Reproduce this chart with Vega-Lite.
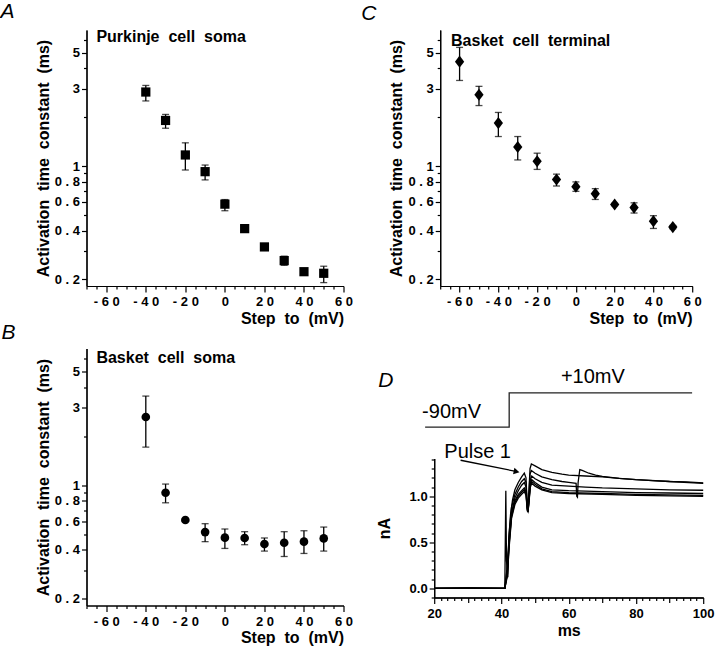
{
  "$schema": "https://vega.github.io/schema/vega-lite/v6.json",
  "background": "white",
  "padding": {"left": 0.5, "top": 0, "right": 2, "bottom": 2},
  "datasets": {
    "purk": [
      {"v": -40, "tau": 2.86, "lo": 2.52, "hi": 3.14},
      {"v": -30, "tau": 1.91, "lo": 1.71, "hi": 2.08},
      {"v": -20, "tau": 1.17, "lo": 0.945, "hi": 1.39},
      {"v": -10, "tau": 0.923, "lo": 0.821, "hi": 1.014},
      {"v": 0, "tau": 0.582, "lo": 0.53, "hi": 0.621},
      {"v": 10, "tau": 0.411, "lo": 0.39, "hi": 0.43},
      {"v": 20, "tau": 0.317, "lo": 0.307, "hi": 0.327},
      {"v": 30, "tau": 0.261, "lo": 0.244, "hi": 0.278},
      {"v": 40, "tau": 0.223, "lo": 0.215, "hi": 0.232},
      {"v": 50, "tau": 0.218, "lo": 0.191, "hi": 0.241}
    ],
    "bsoma": [
      {"v": -40, "tau": 2.62, "lo": 1.71, "hi": 3.52},
      {"v": -30, "tau": 0.897, "lo": 0.778, "hi": 1.014},
      {"v": -20, "tau": 0.61, "lo": 0.6, "hi": 0.62},
      {"v": -10, "tau": 0.514, "lo": 0.449, "hi": 0.579},
      {"v": 0, "tau": 0.475, "lo": 0.408, "hi": 0.537},
      {"v": 10, "tau": 0.473, "lo": 0.43, "hi": 0.517},
      {"v": 20, "tau": 0.434, "lo": 0.393, "hi": 0.473},
      {"v": 30, "tau": 0.442, "lo": 0.364, "hi": 0.517},
      {"v": 40, "tau": 0.449, "lo": 0.38, "hi": 0.524},
      {"v": 50, "tau": 0.47, "lo": 0.393, "hi": 0.552}
    ],
    "bterm": [
      {"v": -60, "tau": 4.4, "lo": 3.37, "hi": 5.39},
      {"v": -50, "tau": 2.75, "lo": 2.36, "hi": 3.1},
      {"v": -40, "tau": 1.84, "lo": 1.52, "hi": 2.14},
      {"v": -30, "tau": 1.31, "lo": 1.09, "hi": 1.52},
      {"v": -20, "tau": 1.07, "lo": 0.953, "hi": 1.2},
      {"v": -10, "tau": 0.826, "lo": 0.753, "hi": 0.891},
      {"v": 0, "tau": 0.746, "lo": 0.698, "hi": 0.798},
      {"v": 10, "tau": 0.675, "lo": 0.622, "hi": 0.725},
      {"v": 20, "tau": 0.579, "lo": 0.57, "hi": 0.588},
      {"v": 30, "tau": 0.554, "lo": 0.513, "hi": 0.593},
      {"v": 40, "tau": 0.457, "lo": 0.412, "hi": 0.494},
      {"v": 50, "tau": 0.42, "lo": 0.41, "hi": 0.43}
    ],
    "protocol": [
      {"t": 17.3, "mV": -90},
      {"t": 42.3, "mV": -90},
      {"t": 42.3, "mV": 10},
      {"t": 96.7, "mV": 10}
    ],
    "arrow": [
      {"t": 27.85, "nA": 1.391},
      {"t": 44.3, "nA": 1.27}
    ],
    "traces": [
      {"tr": "a", "t": 20, "nA": 0}, {"tr": "a", "t": 30, "nA": 0.004}, {"tr": "a", "t": 41, "nA": 0},
      {"tr": "a", "t": 41.3, "nA": 1.06}, {"tr": "a", "t": 41.5, "nA": 0.3}, {"tr": "a", "t": 41.8, "nA": 0.15},
      {"tr": "a", "t": 42.2, "nA": 0.55}, {"tr": "a", "t": 42.7, "nA": 0.8}, {"tr": "a", "t": 43.3, "nA": 0.96},
      {"tr": "a", "t": 44, "nA": 1.07}, {"tr": "a", "t": 45, "nA": 1.15}, {"tr": "a", "t": 46, "nA": 1.21},
      {"tr": "a", "t": 46.8, "nA": 1.25}, {"tr": "a", "t": 47.3, "nA": 1.2}, {"tr": "a", "t": 47.6, "nA": 0.96},
      {"tr": "a", "t": 47.85, "nA": 0.83}, {"tr": "a", "t": 48.1, "nA": 1.0}, {"tr": "a", "t": 48.5, "nA": 1.3},
      {"tr": "a", "t": 48.9, "nA": 1.35}, {"tr": "a", "t": 50, "nA": 1.33}, {"tr": "a", "t": 52, "nA": 1.29},
      {"tr": "a", "t": 55, "nA": 1.26}, {"tr": "a", "t": 58, "nA": 1.24}, {"tr": "a", "t": 60, "nA": 1.23},
      {"tr": "a", "t": 65, "nA": 1.22}, {"tr": "a", "t": 70, "nA": 1.21}, {"tr": "a", "t": 75, "nA": 1.195},
      {"tr": "a", "t": 80, "nA": 1.18}, {"tr": "a", "t": 85, "nA": 1.17}, {"tr": "a", "t": 90, "nA": 1.16},
      {"tr": "a", "t": 95, "nA": 1.155}, {"tr": "a", "t": 100, "nA": 1.145},
      {"tr": "b", "t": 20, "nA": 0}, {"tr": "b", "t": 30, "nA": 0.004}, {"tr": "b", "t": 41, "nA": 0},
      {"tr": "b", "t": 41.5, "nA": 0.15}, {"tr": "b", "t": 41.9, "nA": 0.12}, {"tr": "b", "t": 42.3, "nA": 0.6},
      {"tr": "b", "t": 43, "nA": 0.88}, {"tr": "b", "t": 44, "nA": 1.02}, {"tr": "b", "t": 45, "nA": 1.1},
      {"tr": "b", "t": 46, "nA": 1.16}, {"tr": "b", "t": 46.8, "nA": 1.19}, {"tr": "b", "t": 47.3, "nA": 1.15},
      {"tr": "b", "t": 47.6, "nA": 0.92}, {"tr": "b", "t": 47.85, "nA": 0.83}, {"tr": "b", "t": 48.1, "nA": 0.98},
      {"tr": "b", "t": 48.5, "nA": 1.24}, {"tr": "b", "t": 48.9, "nA": 1.28}, {"tr": "b", "t": 50, "nA": 1.25},
      {"tr": "b", "t": 52, "nA": 1.21}, {"tr": "b", "t": 55, "nA": 1.18}, {"tr": "b", "t": 58, "nA": 1.16},
      {"tr": "b", "t": 60, "nA": 1.15}, {"tr": "b", "t": 62.2, "nA": 1.14}, {"tr": "b", "t": 62.4, "nA": 1.0},
      {"tr": "b", "t": 62.6, "nA": 0.99}, {"tr": "b", "t": 62.8, "nA": 1.15}, {"tr": "b", "t": 63.3, "nA": 1.29},
      {"tr": "b", "t": 64, "nA": 1.28}, {"tr": "b", "t": 66, "nA": 1.25}, {"tr": "b", "t": 68, "nA": 1.23},
      {"tr": "b", "t": 70, "nA": 1.215}, {"tr": "b", "t": 75, "nA": 1.195}, {"tr": "b", "t": 80, "nA": 1.18},
      {"tr": "b", "t": 90, "nA": 1.16}, {"tr": "b", "t": 100, "nA": 1.14},
      {"tr": "c", "t": 20, "nA": 0}, {"tr": "c", "t": 41, "nA": 0}, {"tr": "c", "t": 41.6, "nA": 0.2},
      {"tr": "c", "t": 42.3, "nA": 0.55}, {"tr": "c", "t": 43, "nA": 0.82}, {"tr": "c", "t": 44, "nA": 0.98},
      {"tr": "c", "t": 45, "nA": 1.06}, {"tr": "c", "t": 46, "nA": 1.12}, {"tr": "c", "t": 46.8, "nA": 1.15},
      {"tr": "c", "t": 47.3, "nA": 1.1}, {"tr": "c", "t": 47.7, "nA": 0.88}, {"tr": "c", "t": 47.9, "nA": 0.84},
      {"tr": "c", "t": 48.2, "nA": 0.97}, {"tr": "c", "t": 48.6, "nA": 1.18}, {"tr": "c", "t": 49, "nA": 1.22},
      {"tr": "c", "t": 50, "nA": 1.19}, {"tr": "c", "t": 52, "nA": 1.15}, {"tr": "c", "t": 55, "nA": 1.12},
      {"tr": "c", "t": 60, "nA": 1.11}, {"tr": "c", "t": 65, "nA": 1.1}, {"tr": "c", "t": 70, "nA": 1.09},
      {"tr": "c", "t": 80, "nA": 1.08}, {"tr": "c", "t": 90, "nA": 1.07}, {"tr": "c", "t": 100, "nA": 1.065},
      {"tr": "d", "t": 20, "nA": 0}, {"tr": "d", "t": 41, "nA": 0}, {"tr": "d", "t": 41.6, "nA": 0.13},
      {"tr": "d", "t": 42.3, "nA": 0.5}, {"tr": "d", "t": 43, "nA": 0.8}, {"tr": "d", "t": 44, "nA": 0.95},
      {"tr": "d", "t": 45, "nA": 1.02}, {"tr": "d", "t": 46, "nA": 1.06}, {"tr": "d", "t": 46.8, "nA": 1.09},
      {"tr": "d", "t": 47.3, "nA": 1.05}, {"tr": "d", "t": 47.7, "nA": 0.86}, {"tr": "d", "t": 47.9, "nA": 0.84},
      {"tr": "d", "t": 48.2, "nA": 0.96}, {"tr": "d", "t": 48.6, "nA": 1.14}, {"tr": "d", "t": 49, "nA": 1.18},
      {"tr": "d", "t": 50, "nA": 1.15}, {"tr": "d", "t": 52, "nA": 1.1}, {"tr": "d", "t": 55, "nA": 1.07},
      {"tr": "d", "t": 60, "nA": 1.06}, {"tr": "d", "t": 70, "nA": 1.05}, {"tr": "d", "t": 80, "nA": 1.04},
      {"tr": "d", "t": 90, "nA": 1.035}, {"tr": "d", "t": 100, "nA": 1.03},
      {"tr": "e", "t": 20, "nA": 0}, {"tr": "e", "t": 41, "nA": 0}, {"tr": "e", "t": 41.65, "nA": 0.13},
      {"tr": "e", "t": 42.3, "nA": 0.48}, {"tr": "e", "t": 43, "nA": 0.78}, {"tr": "e", "t": 44, "nA": 0.93},
      {"tr": "e", "t": 45, "nA": 1.0}, {"tr": "e", "t": 46, "nA": 1.04}, {"tr": "e", "t": 46.8, "nA": 1.07},
      {"tr": "e", "t": 47.3, "nA": 1.03}, {"tr": "e", "t": 47.7, "nA": 0.85}, {"tr": "e", "t": 47.9, "nA": 0.83},
      {"tr": "e", "t": 48.2, "nA": 0.95}, {"tr": "e", "t": 48.6, "nA": 1.12}, {"tr": "e", "t": 49, "nA": 1.16},
      {"tr": "e", "t": 50, "nA": 1.13}, {"tr": "e", "t": 52, "nA": 1.08}, {"tr": "e", "t": 55, "nA": 1.05},
      {"tr": "e", "t": 60, "nA": 1.04}, {"tr": "e", "t": 70, "nA": 1.03}, {"tr": "e", "t": 80, "nA": 1.02},
      {"tr": "e", "t": 90, "nA": 1.015}, {"tr": "e", "t": 100, "nA": 1.01},
      {"tr": "f", "t": 20, "nA": 0}, {"tr": "f", "t": 41, "nA": 0}, {"tr": "f", "t": 41.7, "nA": 0.12},
      {"tr": "f", "t": 42.3, "nA": 0.45}, {"tr": "f", "t": 43, "nA": 0.76}, {"tr": "f", "t": 44, "nA": 0.91},
      {"tr": "f", "t": 45, "nA": 0.98}, {"tr": "f", "t": 46, "nA": 1.02}, {"tr": "f", "t": 46.8, "nA": 1.05},
      {"tr": "f", "t": 47.3, "nA": 1.01}, {"tr": "f", "t": 47.7, "nA": 0.84}, {"tr": "f", "t": 47.9, "nA": 0.83},
      {"tr": "f", "t": 48.2, "nA": 0.94}, {"tr": "f", "t": 48.6, "nA": 1.1}, {"tr": "f", "t": 49, "nA": 1.14},
      {"tr": "f", "t": 50, "nA": 1.11}, {"tr": "f", "t": 52, "nA": 1.07}, {"tr": "f", "t": 55, "nA": 1.04},
      {"tr": "f", "t": 60, "nA": 1.03}, {"tr": "f", "t": 70, "nA": 1.02}, {"tr": "f", "t": 80, "nA": 1.01},
      {"tr": "f", "t": 90, "nA": 1.005}, {"tr": "f", "t": 100, "nA": 1.0}
    ]
  },
  "columns": 2,
  "spacing": {"row": 62.5, "column": 90.7},
  "bounds": "flush",
  "concat": [
    {
      "width": 257, "height": 256,
      "title": {"text": "A", "dx": -86, "offset": 7.5},
      "resolve": {"axis": {"x": "independent", "y": "independent"}},
      "layer": [
        {
          "data": {"name": "purk"},
          "mark": {"type": "errorbar", "ticks": {"size": 7, "thickness": 1.3, "color": "black"}, "rule": {"strokeWidth": 1.3, "color": "black"}},
          "encoding": {
            "x": {"field": "v", "type": "quantitative", "scale": {"domain": [-70, 60], "nice": false, "zero": false},
              "axis": {"orient": "bottom", "title": null, "values": [-70,-65,-55,-50,-45,-35,-30,-25,-15,-10,-5,5,10,15,25,30,35,45,50,55], "labels": false, "tickSize": 3}},
            "y": {"field": "lo", "type": "quantitative", "scale": {"type": "log", "domain": [0.182, 6.9], "nice": false},
              "axis": {"orient": "left", "title": null, "values": [0.3,0.5,0.7,0.9,2,4,6], "labels": false, "tickSize": 3}},
            "y2": {"field": "hi"}
          }
        },
        {
          "data": {"name": "purk"},
          "mark": {"type": "point", "shape": "square", "filled": true, "size": 85, "color": "black", "opacity": 1},
          "encoding": {
            "x": {"field": "v", "type": "quantitative", "scale": {"domain": [-70, 60], "nice": false, "zero": false},
              "axis": {"orient": "bottom", "title": "Step\u00a0 to\u00a0 (mV)", "values": [-60,-40,-20,0,20,40,60],
                "labelExpr": "replace(datum.value + '', regexp('(.)(?=.)', 'g'), '$1 ')",
                "tickSize": 6, "titleAnchor": "end", "labelPadding": 3, "titlePadding": 2, "labelFlush": false, "labelOverlap": false}},
            "y": {"field": "tau", "type": "quantitative", "scale": {"type": "log", "domain": [0.182, 6.9], "nice": false},
              "axis": {"orient": "left", "title": "Activation\u00a0 time\u00a0 constant\u00a0 (ms)", "values": [0.2,0.4,0.6,0.8,1,3,5],
                "labelExpr": "replace(datum.value + '', regexp('(.)(?=.)', 'g'), '$1 ')",
                "tickSize": 5, "labelPadding": 2, "titlePadding": 3, "labelOverlap": false, "labelFlush": false}}
          }
        },
        {
          "data": {"values": [{}]},
          "mark": {"type": "text", "align": "left", "baseline": "alphabetic", "font": "Liberation Sans", "fontSize": 16, "fontWeight": "bold", "color": "black"},
          "encoding": {
            "x": {"datum": -65, "type": "quantitative", "scale": {"domain": [-70, 60], "nice": false, "zero": false}, "axis": null},
            "y": {"datum": 5.78, "type": "quantitative", "scale": {"type": "log", "domain": [0.182, 6.9], "nice": false}, "axis": null},
            "text": {"value": "Purkinje\u00a0 cell\u00a0 soma"}
          }
        }
      ]
    },
    {
      "width": 258, "height": 256,
      "title": {"text": "C", "dx": -73, "offset": 6.5},
      "resolve": {"axis": {"x": "independent", "y": "independent"}},
      "layer": [
        {
          "data": {"name": "bterm"},
          "mark": {"type": "errorbar", "ticks": {"size": 7, "thickness": 1.3, "color": "black"}, "rule": {"strokeWidth": 1.3, "color": "black"}},
          "encoding": {
            "x": {"field": "v", "type": "quantitative", "scale": {"domain": [-70, 60], "nice": false, "zero": false, "range": [6, 258]},
              "axis": {"orient": "bottom", "title": null, "values": [-70,-65,-55,-50,-45,-35,-30,-25,-15,-10,-5,5,10,15,25,30,35,45,50,55], "labels": false, "tickSize": 3}},
            "y": {"field": "lo", "type": "quantitative", "scale": {"type": "log", "domain": [0.182, 6.9], "nice": false},
              "axis": {"orient": "left", "title": null, "values": [0.3,0.5,0.7,0.9,2,4,6], "labels": false, "tickSize": 3, "offset": -6}},
            "y2": {"field": "hi"}
          }
        },
        {
          "data": {"name": "bterm"},
          "mark": {"type": "point", "shape": "M0,-1.25L0.95,0L0,1.25L-0.95,0Z", "filled": true, "size": 95, "color": "black", "opacity": 1},
          "encoding": {
            "x": {"field": "v", "type": "quantitative", "scale": {"domain": [-70, 60], "nice": false, "zero": false, "range": [6, 258]},
              "axis": {"orient": "bottom", "title": "Step\u00a0 to\u00a0 (mV)", "values": [-60,-40,-20,0,20,40,60],
                "labelExpr": "replace(datum.value + '', regexp('(.)(?=.)', 'g'), '$1 ')",
                "tickSize": 6, "titleAnchor": "end", "labelPadding": 3, "titlePadding": 2, "labelFlush": false, "labelOverlap": false}},
            "y": {"field": "tau", "type": "quantitative", "scale": {"type": "log", "domain": [0.182, 6.9], "nice": false},
              "axis": {"orient": "left", "title": "Activation\u00a0 time\u00a0 constant\u00a0 (ms)", "values": [0.2,0.4,0.6,0.8,1,3,5],
                "labelExpr": "replace(datum.value + '', regexp('(.)(?=.)', 'g'), '$1 ')",
                "tickSize": 5, "offset": -6, "labelPadding": 2, "titlePadding": 3, "labelOverlap": false, "labelFlush": false}}
          }
        },
        {
          "data": {"values": [{}]},
          "mark": {"type": "text", "align": "left", "baseline": "alphabetic", "font": "Liberation Sans", "fontSize": 16, "fontWeight": "bold", "color": "black"},
          "encoding": {
            "x": {"datum": -64.4, "type": "quantitative", "scale": {"domain": [-70, 60], "nice": false, "zero": false, "range": [6, 258]}, "axis": null},
            "y": {"datum": 5.5, "type": "quantitative", "scale": {"type": "log", "domain": [0.182, 6.9], "nice": false}, "axis": null},
            "text": {"value": "Basket\u00a0 cell\u00a0 terminal"}
          }
        }
      ]
    },
    {
      "width": 257, "height": 257,
      "title": {"text": "B", "dx": -85, "offset": 6},
      "resolve": {"axis": {"x": "independent", "y": "independent"}},
      "layer": [
        {
          "data": {"name": "bsoma"},
          "mark": {"type": "errorbar", "ticks": {"size": 7, "thickness": 1.3, "color": "black"}, "rule": {"strokeWidth": 1.3, "color": "black"}},
          "encoding": {
            "x": {"field": "v", "type": "quantitative", "scale": {"domain": [-70, 60], "nice": false, "zero": false},
              "axis": {"orient": "bottom", "title": null, "values": [-70,-65,-55,-50,-45,-35,-30,-25,-15,-10,-5,5,10,15,25,30,35,45,50,55], "labels": false, "tickSize": 3}},
            "y": {"field": "lo", "type": "quantitative", "scale": {"type": "log", "domain": [0.182, 6.9], "nice": false},
              "axis": {"orient": "left", "title": null, "values": [0.3,0.5,0.7,0.9,2,4,6], "labels": false, "tickSize": 3}},
            "y2": {"field": "hi"}
          }
        },
        {
          "data": {"name": "bsoma"},
          "mark": {"type": "point", "shape": "circle", "filled": true, "size": 75, "color": "black", "opacity": 1},
          "encoding": {
            "x": {"field": "v", "type": "quantitative", "scale": {"domain": [-70, 60], "nice": false, "zero": false},
              "axis": {"orient": "bottom", "title": "Step\u00a0 to\u00a0 (mV)", "values": [-60,-40,-20,0,20,40,60],
                "labelExpr": "replace(datum.value + '', regexp('(.)(?=.)', 'g'), '$1 ')",
                "tickSize": 6, "titleAnchor": "end", "labelPadding": 4, "titlePadding": 1, "labelFlush": false, "labelOverlap": false}},
            "y": {"field": "tau", "type": "quantitative", "scale": {"type": "log", "domain": [0.182, 6.9], "nice": false},
              "axis": {"orient": "left", "title": "Activation\u00a0 time\u00a0 constant\u00a0 (ms)", "values": [0.2,0.4,0.6,0.8,1,3,5],
                "labelExpr": "replace(datum.value + '', regexp('(.)(?=.)', 'g'), '$1 ')",
                "tickSize": 5, "labelPadding": 2, "titlePadding": 3, "labelOverlap": false, "labelFlush": false}}
          }
        },
        {
          "data": {"values": [{}]},
          "mark": {"type": "text", "align": "left", "baseline": "alphabetic", "font": "Liberation Sans", "fontSize": 16, "fontWeight": "bold", "color": "black"},
          "encoding": {
            "x": {"datum": -65, "type": "quantitative", "scale": {"domain": [-70, 60], "nice": false, "zero": false}, "axis": null},
            "y": {"datum": 5.65, "type": "quantitative", "scale": {"type": "log", "domain": [0.182, 6.9], "nice": false}, "axis": null},
            "text": {"value": "Basket\u00a0 cell\u00a0 soma"}
          }
        }
      ]
    },
    {
      "width": 269, "height": 249,
      "title": {"text": "D", "dx": -56, "offset": -42},
      "resolve": {"scale": {"y": "independent"}, "axis": {"x": "independent", "y": "independent"}},
      "layer": [
        {
          "data": {"name": "traces"},
          "mark": {"type": "line", "color": "black", "strokeWidth": 1.3, "interpolate": "linear"},
          "encoding": {
            "x": {"field": "t", "type": "quantitative", "scale": {"domain": [20, 100], "nice": false, "zero": false},
              "axis": {"orient": "bottom", "title": null, "values": [22,24,26,28,32,34,36,38,42,44,46,48,52,54,56,58,62,64,66,68,72,74,76,78,82,84,86,88,92,94,96,98], "labels": false, "tickSize": 3}},
            "y": {"field": "nA", "type": "quantitative", "scale": {"domain": [-0.1, 1.41], "nice": false, "zero": false, "range": [249, 110]},
              "axis": {"orient": "left", "title": null, "values": [-0.1,0.1,0.2,0.3,0.4,0.6,0.7,0.8,0.9,1.1,1.2,1.3,1.4], "labels": false, "tickSize": 3}},
            "detail": {"field": "tr", "type": "nominal"}
          }
        },
        {
          "data": {"name": "arrow"},
          "mark": {"type": "line", "color": "black", "strokeWidth": 1.3},
          "encoding": {
            "x": {"field": "t", "type": "quantitative", "scale": {"domain": [20, 100], "nice": false, "zero": false},
              "axis": {"orient": "bottom", "title": "ms", "values": [20, 40, 60, 80, 100],
                "tickSize": 6, "labelPadding": 4, "titlePadding": 2, "labelFlush": false, "labelOverlap": false}},
            "y": {"field": "nA", "type": "quantitative", "scale": {"domain": [-0.1, 1.41], "nice": false, "zero": false, "range": [249, 110]},
              "axis": {"orient": "left", "title": "nA", "values": [0, 0.5, 1], "format": ".1f",
                "tickSize": 5, "labelPadding": 2, "titlePadding": 17, "labelFlush": false, "labelOverlap": false}}
          }
        },
        {
          "data": {"values": [{}]},
          "mark": {"type": "point", "shape": "triangle-right", "filled": true, "size": 45, "color": "black", "opacity": 1, "angle": 11.7},
          "encoding": {
            "x": {"datum": 44.5, "type": "quantitative", "scale": {"domain": [20, 100], "nice": false, "zero": false},
              "axis": {"orient": "bottom", "title": null, "values": [30, 50, 70, 90], "labels": false, "tickSize": 5}},
            "y": {"datum": 1.268, "type": "quantitative", "scale": {"domain": [-0.1, 1.41], "nice": false, "zero": false, "range": [249, 110]}, "axis": null}
          }
        },
        {
          "data": {"values": [{}]},
          "mark": {"type": "text", "align": "left", "baseline": "alphabetic", "font": "Liberation Sans", "fontSize": 20, "color": "black"},
          "encoding": {
            "x": {"datum": 23.0, "type": "quantitative", "scale": {"domain": [20, 100], "nice": false, "zero": false}, "axis": null},
            "y": {"datum": 1.413, "type": "quantitative", "scale": {"domain": [-0.1, 1.41], "nice": false, "zero": false, "range": [249, 110]}, "axis": null},
            "text": {"value": "Pulse 1"}
          }
        },
        {
          "data": {"name": "protocol"},
          "mark": {"type": "line", "color": "#222222", "strokeWidth": 1.3},
          "encoding": {
            "x": {"field": "t", "type": "quantitative", "scale": {"domain": [20, 100], "nice": false, "zero": false}, "axis": null},
            "y": {"field": "mV", "type": "quantitative", "scale": {"domain": [-90, 10], "nice": false, "zero": false, "range": [78.7, 44.3]}, "axis": null},
            "order": {"value": 0}
          }
        },
        {
          "data": {"values": [{}]},
          "mark": {"type": "text", "align": "left", "baseline": "alphabetic", "font": "Liberation Sans", "fontSize": 20, "color": "black", "dx": -3, "dy": -9},
          "encoding": {
            "x": {"datum": 17.3, "type": "quantitative", "scale": {"domain": [20, 100], "nice": false, "zero": false}, "axis": null},
            "y": {"datum": -90, "type": "quantitative", "scale": {"domain": [-90, 10], "nice": false, "zero": false, "range": [78.7, 44.3]}, "axis": null},
            "text": {"value": "-90mV"}
          }
        },
        {
          "data": {"values": [{}]},
          "mark": {"type": "text", "align": "center", "baseline": "alphabetic", "font": "Liberation Sans", "fontSize": 20, "color": "black", "dy": -9.5},
          "encoding": {
            "x": {"datum": 67.2, "type": "quantitative", "scale": {"domain": [20, 100], "nice": false, "zero": false}, "axis": null},
            "y": {"datum": 10, "type": "quantitative", "scale": {"domain": [-90, 10], "nice": false, "zero": false, "range": [78.7, 44.3]}, "axis": null},
            "text": {"value": "+10mV"}
          }
        }
      ]
    }
  ],
  "config": {
    "view": {"stroke": null},
    "font": "Liberation Sans",
    "axis": {
      "domainColor": "black", "tickColor": "black", "labelColor": "black", "titleColor": "black",
      "labelFont": "Liberation Sans", "titleFont": "Liberation Sans",
      "labelFontWeight": "bold", "titleFontWeight": "bold",
      "labelFontSize": 13, "titleFontSize": 16,
      "grid": false, "domainWidth": 1.2, "tickWidth": 1.2
    },
    "title": {
      "font": "Liberation Sans", "fontStyle": "italic", "fontWeight": "normal", "fontSize": 21,
      "anchor": "start", "frame": "group", "baseline": "alphabetic", "color": "black"
    }
  }
}
